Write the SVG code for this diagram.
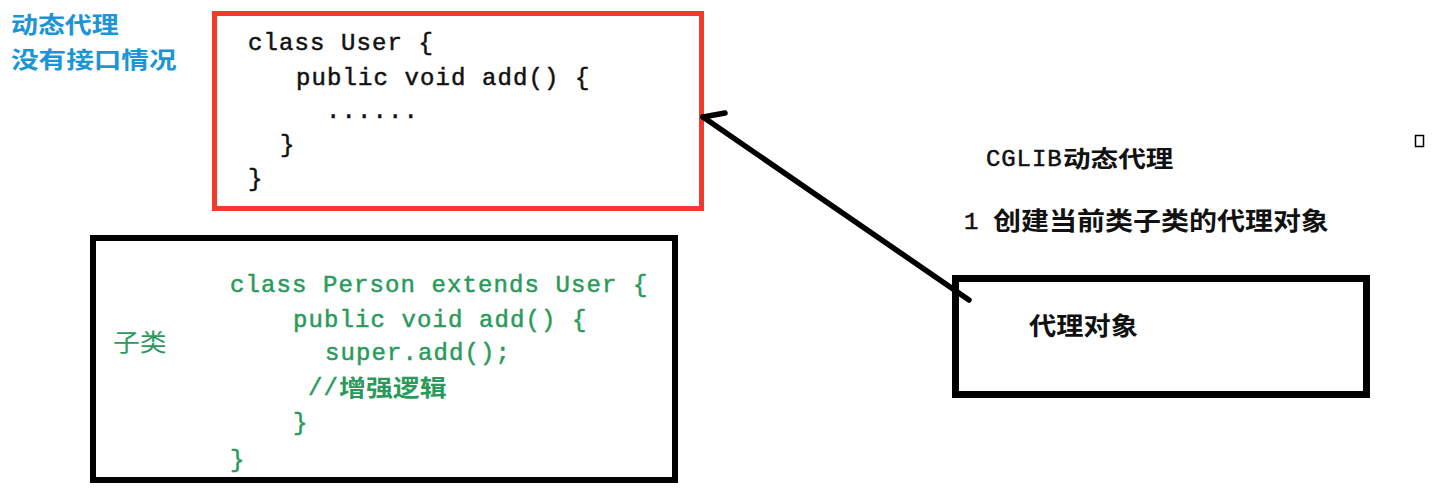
<svg xmlns="http://www.w3.org/2000/svg" width="1445" height="503" viewBox="0 0 1445 503">
<style>
.mono{font-family:"Liberation Mono","DejaVu Sans Mono",monospace;font-size:24px;letter-spacing:1.1px;stroke-width:0.5px}
.cjk{font-family:"Noto Sans CJK SC","Noto Sans",sans-serif;font-weight:bold}
.blk{fill:#111;stroke:#111}
.grn{fill:#2a9a5a;stroke:#2a9a5a}
.blu{fill:#1b95d6}
.box{fill:none;stroke:#000}
</style>
<rect width="1445" height="503" fill="#fff"/>
<g id="title">
<text class="cjk blu" font-size="23" transform="translate(11,33) scale(1.17,1)">动态代理</text>
<text class="cjk blu" font-size="23" transform="translate(11,68) scale(1.2,1)">没有接口情况</text>
</g>
<g id="user-class">
<rect x="214.5" y="13.5" width="487" height="195" fill="none" stroke="#f03a2b" stroke-width="5"/>
<text class="mono blk" x="248" y="50">class User {</text>
<text class="mono blk" x="296" y="85">public void add() {</text>
<text class="mono blk" x="326" y="118">......</text>
<text class="mono blk" x="280" y="152">}</text>
<text class="mono blk" x="248" y="186">}</text>
</g>
<g id="person-class">
<rect class="box" x="93" y="238" width="582" height="242" stroke-width="6"/>
<text class="cjk grn" font-size="24" stroke-width="0" style="font-weight:normal" transform="translate(113,351) scale(1.12,1)">子类</text>
<text class="mono grn" x="230" y="292">class Person extends User {</text>
<text class="mono grn" x="293" y="327">public void add() {</text>
<text class="mono grn" x="325" y="360">super.add();</text>
<text class="mono grn" x="308" y="395">//</text>
<text class="cjk grn" font-size="23" stroke-width="0" transform="translate(339,396) scale(1.17,1)">增强逻辑</text>
<text class="mono grn" x="293" y="430">}</text>
<text class="mono grn" x="230" y="467">}</text>
</g>
<g id="cglib-label">
<text class="mono blk" x="986" y="166" style="letter-spacing:0.9px">CGLIB</text>
<text class="cjk blk" font-size="23" stroke-width="0" transform="translate(1063,167) scale(1.2,1)">动态代理</text>
<text class="mono blk" x="964" y="229">1</text>
<text class="cjk blk" font-size="25" stroke-width="0" transform="translate(993,230) scale(1.12,1)">创建当前类子类的代理对象</text>
<rect x="1415.5" y="135.5" width="8" height="11" fill="none" stroke="#000" stroke-width="1.5"/>
</g>
<g id="proxy-object">
<rect class="box" x="955.5" y="278.5" width="411" height="116" stroke-width="7"/>
<text class="cjk blk" font-size="25" stroke-width="0" transform="translate(1029,335) scale(1.09,1)">代理对象</text>
</g>
<g id="connectors" fill="none" stroke="#000" stroke-width="5.5" stroke-linecap="round">
<line x1="703" y1="117" x2="969" y2="300"/>
<line x1="703" y1="117" x2="725" y2="113"/>
</g>
</svg>
